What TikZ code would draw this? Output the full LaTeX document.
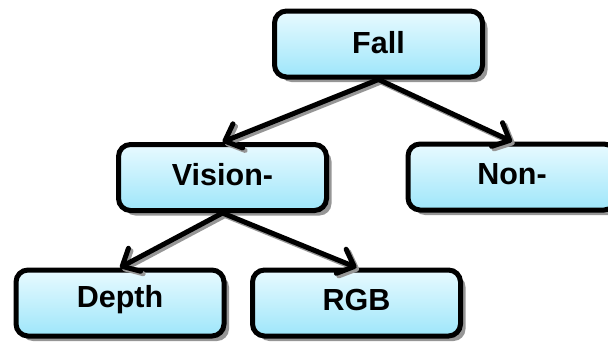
\documentclass[tikz,border=0pt]{standalone}
\usepackage{fontspec}
\setmainfont{Liberation Sans}
\usetikzlibrary{arrows.meta,shadows}
\definecolor{boxtop}{RGB}{232,250,255}
\definecolor{boxbot}{RGB}{158,230,250}
\definecolor{shd}{RGB}{150,150,150}
\begin{document}
\begin{tikzpicture}[x=1pt,y=-1pt,
  box/.style={draw=black, line width=5pt, rounded corners=12pt,
    minimum width=208pt, minimum height=66pt, inner sep=0pt,
    top color=boxtop, bottom color=boxbot,
    drop shadow={shadow xshift=5pt, shadow yshift=-5pt, fill=shd, opacity=1}},
  lbl/.style={font=\bfseries\fontsize{30.5}{36}\selectfont, inner sep=0pt},
  arr/.style={line width=5pt, line cap=round,
    -{Straight Barb[length=14pt,width=26pt,line cap=round,line join=round]}},
  arrshd/.style={arr, draw=shd}]
\useasboundingbox (0,0) rectangle (608,343);
\clip (0,0) rectangle (608,343);
\node[box] (fall) at (378.5,44) {};
\node[box] (vision) at (222.5,177.5) {};
\node[box] (non) at (512,177) {};
\node[box] (depth) at (120,303) {};
\node[box] (rgb) at (356.5,303) {};
\node[lbl] (tfall) at ([yshift=1pt]fall.center) {Fall};
\node[lbl] (tvision) at ([yshift=3pt]vision.center) {Vision-};
\node[lbl] (tnon) at ([yshift=3pt]non.center) {Non-};
\node[lbl] (tdepth) at ([yshift=3pt]depth.center) {Depth};
\node[lbl] (trgb) at ([yshift=3pt]rgb.center) {RGB};
\begin{scope}[transform canvas={shift={(2.5pt,-2.5pt)}}]
\draw[arrshd] (fall.south) -- (vision.north);
\draw[arrshd] (fall.south) -- (non.north);
\draw[arrshd] (vision.south) -- (depth.north);
\draw[arrshd] (vision.south) -- (rgb.north);
\end{scope}
\draw[arr] (fall.south) -- (vision.north);
\draw[arr] (fall.south) -- (non.north);
\draw[arr] (vision.south) -- (depth.north);
\draw[arr] (vision.south) -- (rgb.north);
\end{tikzpicture}
\end{document}
